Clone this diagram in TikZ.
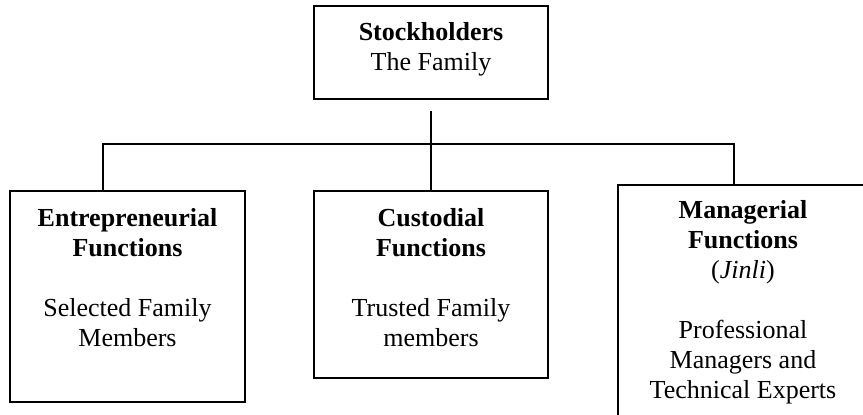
\documentclass[tikz,border=0pt]{standalone}
\usepackage{fontspec}
\setmainfont{Liberation Serif}
\tikzset{
  box/.style={draw, line width=0.8pt, inner sep=0pt},
  txt/.style={anchor=north, inner sep=0pt, align=flush center, text width=118pt,
    font=\fontsize{13}{15}\selectfont},
  link/.style={line width=0.7pt}
}
\begin{document}
\begin{tikzpicture}[x=0.5pt, y=-0.5pt]
      \clip (0,0) rectangle (863,414);
      \node[box, minimum width=117pt, minimum height=46.5pt] (stock) at (431,52.5) {};
      \node[box, minimum width=117.5pt, minimum height=105.5pt] (entre) at (127.5,296.5) {};
      \node[box, minimum width=117pt, minimum height=93.5pt] (cust) at (431,284.5) {};
      \node[box, minimum width=130pt, minimum height=130pt, anchor=north west] (manag) at (617,184) {};
      \node[txt] (stockT) at (431,22.2) {\textbf{Stockholders}\\The Family};
      \node[txt] (entreT) at (127.5,208.2) {\textbf{Entrepreneurial}\\\textbf{Functions}\\[15pt]Selected Family\\Members};
      \node[txt] (custT) at (431,208.2) {\textbf{Custodial}\\\textbf{Functions}\\[15pt]Trusted Family\\members};
      \node[txt] (managT) at (743,200.2) {\textbf{Managerial}\\\textbf{Functions}\\(\textit{Jinli})\\[15pt]Professional\\Managers and\\Technical Experts};
      \coordinate (barL) at (103,144);
      \coordinate (barR) at (734,144);
      \begin{scope}[link]
        \draw[shorten <=5.5pt] (stock) to (cust);
        \draw (entre.north -| barL) |- (barR) -- (manag.north -| barR);
      \end{scope}
    \end{tikzpicture}
\end{document}
